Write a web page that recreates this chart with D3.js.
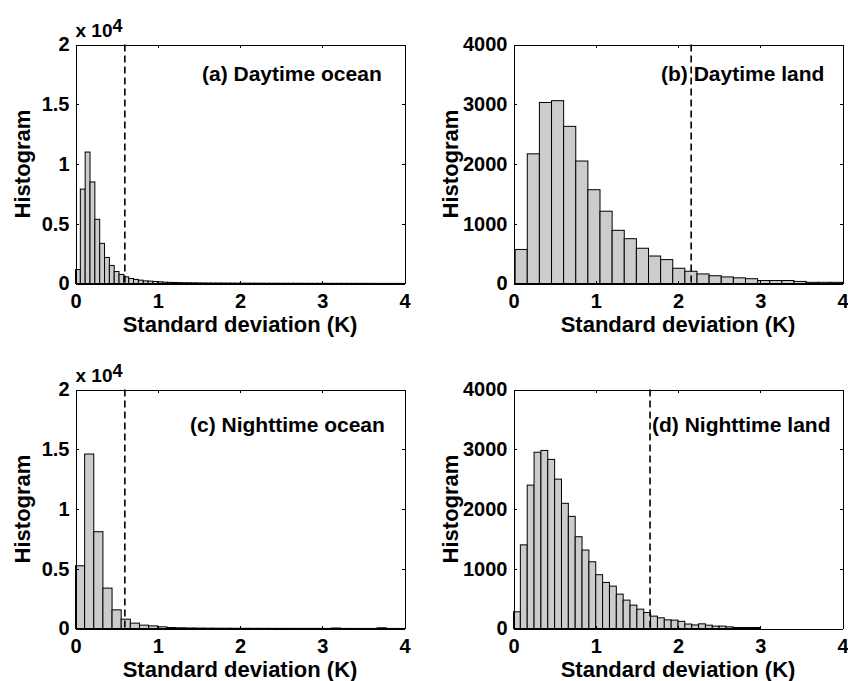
<!DOCTYPE html>
<html>
<head>
<meta charset="utf-8">
<script src="https://cdn.jsdelivr.net/npm/d3@7"></script>
<style>
  body { margin: 0; background: #fff; }
  svg { display: block; }
</style>
</head>
<body>
<svg id="chart" width="848" height="681"></svg>
<script>
// histogram counts, one value per bin
const dayOceanCounts = [1170, 7900, 11000, 8500, 5370, 3360, 2180, 1510, 1000, 760,
    560, 420, 340, 280, 220, 200, 170, 140, 110, 95,
    85, 75, 65, 60, 55, 50, 45, 42, 40, 38,
    36, 34, 32, 30, 28, 27, 26, 25, 24, 23,
    22, 21, 20, 20, 19, 18, 18, 17, 16, 16,
    15, 15, 14, 14, 13, 13, 12, 12, 11, 11,
    10, 10, 9, 9, 8, 8, 7, 7];
const dayLandCounts = [570, 2170, 3030, 3060, 2630, 2050, 1570, 1210, 890, 750,
    590, 460, 400, 255, 205, 160, 130, 110, 95, 80,
    50, 50, 50, 35, 20, 20, 20];
const nightOceanCounts = [5250, 14600, 8100, 3380, 1560, 780, 450, 280, 220, 140,
    80, 60, 45, 35, 30, 25, 22, 20, 18, 16,
    15, 14, 12, 11, 10, 10, 9, 8, 40, 8,
    7, 6, 6, 60, 5, 5];
const nightLandCounts = [280, 1400, 2400, 2950, 2980, 2830, 2500, 2095, 1877, 1536,
    1313, 1117, 900, 771, 709, 575, 475, 391, 324, 268,
    207, 179, 145, 140, 120, 75, 60, 78, 56, 40,
    40, 28, 17, 17, 17, 17, 0, 0, 0, 0,
    0, 0, 0, 0, 0, 0, 0, 0];

// bin layout (K)
const binStarts = [0, 0.02, 0, 0];
const binWidths = [1 / 17, 0.1474, 1 / 9, 1 / 12];

// dashed threshold lines (K)
const thresholds = [0.6, 2.16, 0.6, 1.66];

const titles = ["(a) Daytime ocean", "(b) Daytime land", "(c) Nighttime ocean", "(d) Nighttime land"];

const xTicks = [0, 1, 2, 3, 4];
const oceanYTicks = [0, 5000, 10000, 15000, 20000];
const oceanYTickLabels = ["0", "0.5", "1", "1.5", "2"];
const landYTicks = [0, 1000, 2000, 3000, 4000];
const landYTickLabels = ["0", "1000", "2000", "3000", "4000"];

const FONT = "'Liberation Sans', Arial, Helvetica, sans-serif";

// panel frames
const colLeft = [75.5, 513.5];
const rowTop = [44.5, 389.5];
const plotW = 329;
const plotH = 239;
const titlePos = [[202, 81], [661, 81], [190, 432], [652, 432]];

const panels = [
    { counts: dayOceanCounts, col: 0, row: 0, ocean: true },
    { counts: dayLandCounts, col: 1, row: 0, ocean: false },
    { counts: nightOceanCounts, col: 0, row: 1, ocean: true },
    { counts: nightLandCounts, col: 1, row: 1, ocean: false }
];

const svg = d3.select("#chart");

panels.forEach((p, i) => drawPanel(p, i));

function drawPanel(p, i) {
    const left = colLeft[p.col], top = rowTop[p.row];
    const right = left + plotW, bottom = top + plotH;
    const yTicks = p.ocean ? oceanYTicks : landYTicks;
    const yLabels = p.ocean ? oceanYTickLabels : landYTickLabels;

    const x = d3.scaleLinear().domain([0, 4]).range([left, right]);
    const y = d3.scaleLinear().domain([0, yTicks[yTicks.length - 1]]).range([bottom, top]);

    const g = svg.append("g");

    const bins = p.counts.map((c, k) => ({
        x0: binStarts[i] + k * binWidths[i],
        x1: binStarts[i] + (k + 1) * binWidths[i],
        count: c
    }));

    g.append("g")
        .selectAll("rect")
        .data(bins)
        .enter().append("rect")
        .attr("x", d => x(d.x0))
        .attr("width", d => x(d.x1) - x(d.x0))
        .attr("y", d => y(d.count))
        .attr("height", d => y(0) - y(d.count))
        .attr("fill", "#cccccc")
        .attr("stroke", "#000")
        .attr("stroke-width", 1);

    // dashed threshold
    g.append("line")
        .attr("x1", x(thresholds[i]))
        .attr("x2", x(thresholds[i]))
        .attr("y1", top)
        .attr("y2", bottom)
        .attr("stroke", "#000")
        .attr("stroke-width", 1.6)
        .attr("stroke-dasharray", "7,4");

    // axes, ticks pointing inwards like matlab
    const xAxis = g.append("g")
        .attr("transform", `translate(0,${bottom})`)
        .call(d3.axisBottom(x).tickValues(xTicks).tickSizeInner(-3).tickSizeOuter(0).tickPadding(10).tickFormat(d3.format("d")));
    const yAxis = g.append("g")
        .attr("transform", `translate(${left},0)`)
        .call(d3.axisLeft(y).tickValues(yTicks).tickSizeInner(-3).tickSizeOuter(0).tickPadding(6).tickFormat((d, k) => yLabels[k]));
    g.append("g")
        .attr("transform", `translate(0,${top})`)
        .call(d3.axisTop(x).tickValues(xTicks).tickSizeInner(-3).tickSizeOuter(0).tickFormat(""));
    g.append("g")
        .attr("transform", `translate(${right},0)`)
        .call(d3.axisRight(y).tickValues(yTicks).tickSizeInner(-3).tickSizeOuter(0).tickFormat(""));

    [xAxis, yAxis].forEach(a => a.selectAll("text")
        .attr("font-family", FONT)
        .attr("font-size", 20)
        .attr("font-weight", "bold")
        .attr("fill", "#000"));
    g.selectAll(".domain, .tick line").attr("stroke", "#000").attr("shape-rendering", "crispEdges");

    // labels
    g.append("text")
        .attr("x", (left + right) / 2)
        .attr("y", bottom + 48)
        .attr("text-anchor", "middle")
        .attr("font-family", FONT)
        .attr("font-size", 22)
        .attr("font-weight", "bold")
        .text("Standard deviation (K)");

    const ylabX = p.ocean ? left - 46 : left - 56;
    g.append("text")
        .attr("transform", `translate(${ylabX},${(top + bottom) / 2}) rotate(-90)`)
        .attr("text-anchor", "middle")
        .attr("font-family", FONT)
        .attr("font-size", 22)
        .attr("font-weight", "bold")
        .text("Histogram");

    g.append("text")
        .attr("x", titlePos[i][0])
        .attr("y", titlePos[i][1])
        .attr("font-family", FONT)
        .attr("font-size", 21)
        .attr("font-weight", "bold")
        .text(titles[i]);

    if (p.ocean) {
        const mult = g.append("text")
            .attr("x", left)
            .attr("y", top - 8)
            .attr("font-family", FONT)
            .attr("font-size", 19)
            .attr("font-weight", "bold");
        mult.append("tspan").text("x 10");
        mult.append("tspan").attr("dy", -5).attr("font-size", 18).text("4");
    }
}
</script>
</body>
</html>
